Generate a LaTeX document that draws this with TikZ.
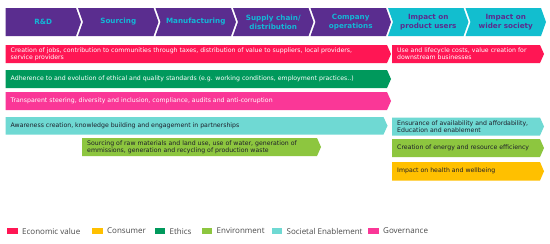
\documentclass[tikz,border=0pt]{standalone}
\usepackage{fontspec}
\setmainfont{DejaVu Sans}
\newfontfamily\legendfont{Open Sans}
\usepackage{tikz}

\definecolor{valuepurple}{HTML}{5A2D8F}
\definecolor{headcyan}{HTML}{13B7D6}
\definecolor{headteal}{HTML}{12BECF}
\definecolor{econred}{HTML}{FF1654}
\definecolor{ethicsgreen}{HTML}{00995C}
\definecolor{govpink}{HTML}{FA3797}
\definecolor{socteal}{HTML}{6FD9D3}
\definecolor{envgreen}{HTML}{8DC63F}
\definecolor{consyellow}{HTML}{FFC000}
\definecolor{darktext}{HTML}{1E1E2A}
\definecolor{legendgray}{HTML}{4A4A4A}

\begin{document}
\begin{tikzpicture}[x=1pt, y=-1pt,
    head/.style={font=\fontsize{7.2}{8.8}\selectfont\bfseries, align=center, inner sep=0pt},
    bartext/.style={font=\fontsize{6.2}{7.2}\selectfont, align=left, anchor=west, inner sep=0pt},
    legend/.style={font=\legendfont\fontsize{8}{9}\selectfont, text=legendgray, anchor=west, inner sep=0pt}]
    \useasboundingbox[fill=white] (0,0) rectangle (550,244);
    % value chain header
    \foreach \i/\lbl/\fc/\tc in {0/R\&D/valuepurple/headcyan,
                                 1/Sourcing/valuepurple/headcyan,
                                 2/Manufacturing/valuepurple/headcyan,
                                 3/{Supply chain/\\distribution}/valuepurple/headcyan,
                                 4/{Company\\operations}/valuepurple/headcyan,
                                 5/{Impact on\\product users}/headteal/valuepurple,
                                 6/{Impact on\\wider society}/headteal/valuepurple} {
        \pgfmathsetmacro\R{76+\i*77.5}
        \pgfmathsetmacro\L{\i==0 ? 5.5 : 78+(\i-1)*77.5}
        \pgfmathsetmacro\n{\i==0 ? 0 : 5}
        \fill[\fc] (\L,8) -- (\R,8) -- (\R+5,22) -- (\R,36) -- (\L,36) -- (\L+\n,22) -- cycle;
        \node[head, text=\tc] (head\i) at ({(\L+\R)/2+2.5},22) {\lbl};
    }
    % impact bars
    \foreach \nm/\xa/\xb/\ya/\yb/\col/\tc/\txt in {
        econL/5.5/387/45/63/econred/white/{Creation of jobs, contribution to communities through taxes, distribution of value to suppliers, local providers,\\service providers},
        econR/392/540/45/63/econred/white/{Use and lifecycle costs, value creation for\\downstream businesses},
        ethics/5.5/387/70/88/ethicsgreen/white/{Adherence to and evolution of ethical and quality standards (e.g. working conditions, employment practices..)},
        gov/5.5/387/92/110/govpink/white/{Transparent steering, diversity and inclusion, compliance, audits and anti-corruption},
        socL/5.5/383.5/117/134.5/socteal/darktext/{Awareness creation, knowledge building and engagement in partnerships},
        socR/392/540/117.5/135.5/socteal/darktext/{Ensurance of availability and affordability,\\Education and enablement},
        envL/82/317/138/156/envgreen/darktext/{Sourcing of raw materials and land use, use of water, generation of\\emmissions, generation and recycling of production waste},
        envR/392/540/139/157/envgreen/darktext/{Creation of energy and resource efficiency},
        cons/392/540/162/180.5/consyellow/darktext/{Impact on health and wellbeing}} {
        \fill[\col] (\xa,\ya) -- (\xb,\ya) -- ({\xb+4},{(\ya+\yb)/2}) -- (\xb,\yb) -- (\xa,\yb) -- cycle;
        \node[bartext, text=\tc] (\nm) at ({\xa+5},{(\ya+\yb)/2}) {\txt};
    }
    % legend
    \foreach \xs/\col/\txt [count=\k] in {7/econred/Economic value, 92/consyellow/Consumer,
                                          154.5/ethicsgreen/Ethics, 201.5/envgreen/Environment,
                                          271.5/socteal/Societal Enablement, 368/govpink/Governance} {
        \fill[\col] (\xs,228) rectangle ++(10.5,5.5);
        \node[legend] (key\k) at (\xs+15,231) {\txt};
    }
\end{tikzpicture}
\end{document}
